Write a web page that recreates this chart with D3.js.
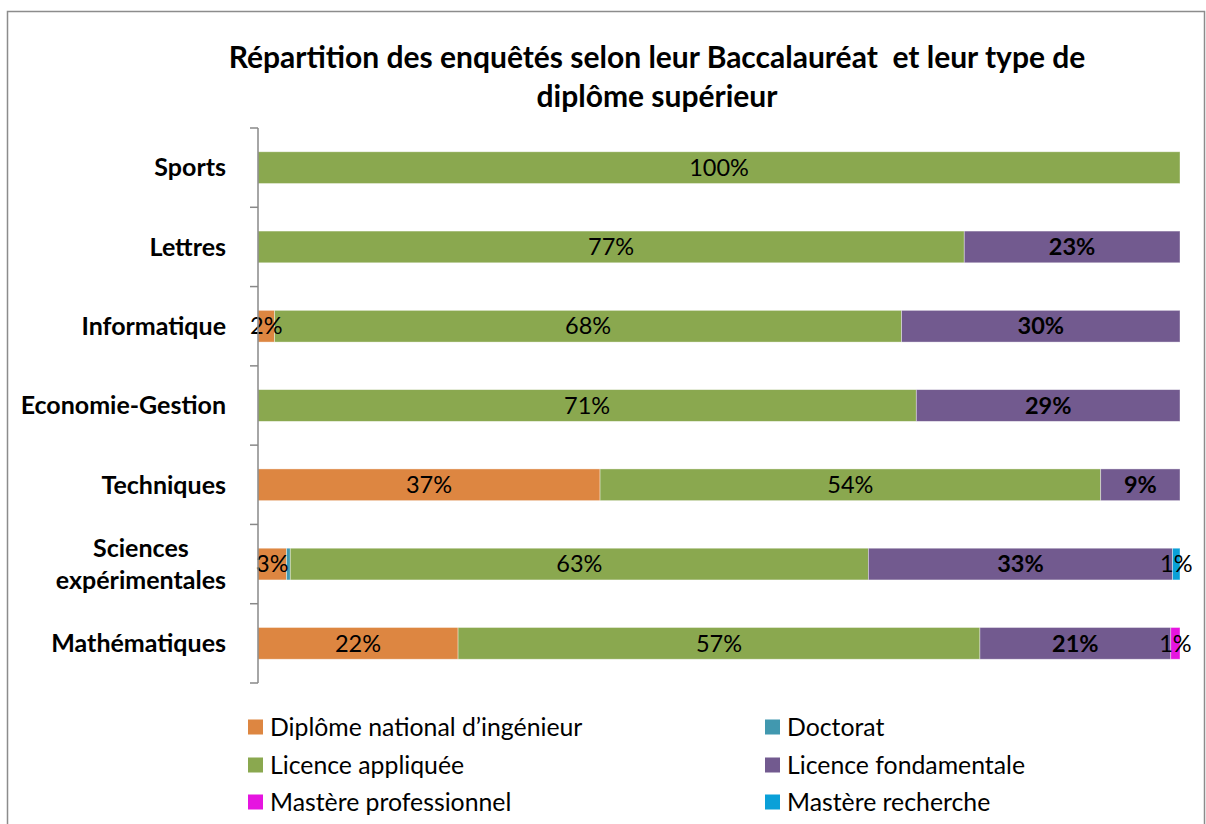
<html>
<head>
  <script src="https://d3js.org/d3.v7.min.js"></script>
  <style>
    body { margin: 0; background: white; }
    text { font-family: Lato, "Open Sans", sans-serif; }
    .cat { font-weight: bold; font-size: 25px; }
    .lbl { font-size: 23.5px; }
    .leg { font-size: 24.8px; }
  </style>
</head>
<body>
  <svg id="chart" width="1206" height="824"></svg>
  <script>
    // data
    const categories = ["Sports", "Lettres", "Informatique", "Economie-Gestion", "Techniques", "Sciences expérimentales", "Mathématiques"];
    const seriesNames = ["Diplôme national d’ingénieur", "Doctorat", "Licence appliquée", "Licence fondamentale", "Mastère professionnel", "Mastère recherche"];
    const ingenieur = [0, 0, 1.8, 0, 37.1, 3.1, 21.7];
    const doctorat = [0, 0, 0, 0, 0, 0.4, 0];
    const licAppliquee = [100, 76.6, 68.0, 71.4, 54.3, 62.7, 56.6];
    const licFondamentale = [0, 23.4, 30.2, 28.6, 8.6, 33.0, 20.7];
    const masterePro = [0, 0, 0, 0, 0, 0, 1.0];
    const mastereRech = [0, 0, 0, 0, 0, 0.8, 0];
    const colors = ["#dd8641", "#4198af", "#8aa84f", "#725a8f", "#e614e0", "#0aa0d8"];

    const seriesValues = [ingenieur, doctorat, licAppliquee, licFondamentale, masterePro, mastereRech];
    const rows = categories.map((c, i) => {
      const r = { cat: c };
      seriesNames.forEach((s, j) => r[s] = seriesValues[j][i]);
      return r;
    });

    const svg = d3.select("#chart");

    // outer frame
    svg.append("rect")
      .attr("x", 7.5).attr("y", 11.5)
      .attr("width", 1197).attr("height", 830)
      .attr("fill", "none").attr("stroke", "#8c8c8c").attr("stroke-width", 1.5);

    // title
    const title = svg.append("text")
      .attr("text-anchor", "middle")
      .style("white-space", "pre")
      .style("font-weight", "bold").style("font-size", "30px");
    title.append("tspan").attr("x", 657).attr("y", 68).text("Répartition des enquêtés selon leur Baccalauréat\u00a0 et leur type de");
    title.append("tspan").attr("x", 657).attr("y", 107).text("diplôme supérieur");

    const x = d3.scaleLinear().domain([0, 100]).range([258, 1180]);
    const y = d3.scaleBand().domain(categories).range([128, 683]).paddingInner(0.6).paddingOuter(0.3);

    const stack = d3.stack().keys(seriesNames)(rows);

    const layers = svg.selectAll("g.layer").data(stack).join("g")
      .attr("class", "layer")
      .attr("fill", (d, i) => colors[i]);

    layers.selectAll("rect").data(d => d).join("rect")
      .attr("x", d => x(d[0]))
      .attr("y", d => y(d.data.cat))
      .attr("width", d => x(d[1]) - x(d[0]))
      .attr("height", y.bandwidth())
      .attr("stroke", "rgba(255,255,255,0.5)")
      .attr("stroke-width", 0.75);

    // data labels
    stack.forEach((layer, i) => {
      svg.append("g").selectAll("text")
        .data(layer.filter(d => d[1] - d[0] >= 0.5))
        .join("text")
        .attr("class", "lbl")
        .attr("x", d => (x(d[0]) + x(d[1])) / 2)
        .attr("y", d => y(d.data.cat) + y.bandwidth() / 2)
        .attr("dy", "0.35em")
        .attr("text-anchor", "middle")
        .style("font-weight", seriesNames[i] === "Licence fondamentale" ? "bold" : "normal")
        .attr("fill", "black")
        .text(d => Math.round(d[1] - d[0]) + "%");
    });

    // vertical axis
    const axis = svg.append("g").attr("stroke", "#888").attr("stroke-width", 1.5);
    axis.append("line").attr("x1", 258).attr("x2", 258).attr("y1", 128).attr("y2", 683);
    d3.range(categories.length + 1).forEach(i => {
      const ty = 128 + i * y.step();
      axis.append("line").attr("x1", 250).attr("x2", 258).attr("y1", ty).attr("y2", ty);
    });

    // category labels
    categories.forEach(c => {
      const cy = y(c) + y.bandwidth() / 2;
      const words = c === "Sciences expérimentales" ? ["Sciences", "expérimentales"] : [c];
      const t = svg.append("text").attr("class", "cat").attr("text-anchor", "middle");
      const spans = words.map((w, k) => t.append("tspan").text(w)
        .attr("y", cy + (k - (words.length - 1) / 2) * 32).attr("dy", "0.35em"));
      const w = d3.max(spans, s => s.node().getComputedTextLength());
      spans.forEach(s => s.attr("x", 226 - w / 2));
    });

    // legend
    const legX = [248, 765];
    const legY = [727, 765, 802];
    seriesNames.forEach((s, i) => {
      const lx = legX[i % 2], ly = legY[Math.floor(i / 2)];
      svg.append("rect").attr("x", lx).attr("y", ly - 7.5).attr("width", 15).attr("height", 15).attr("fill", colors[i]);
      svg.append("text").attr("class", "leg").attr("x", lx + 22).attr("y", ly).attr("dy", "0.35em").text(s);
    });
  </script>
</body>
</html>
